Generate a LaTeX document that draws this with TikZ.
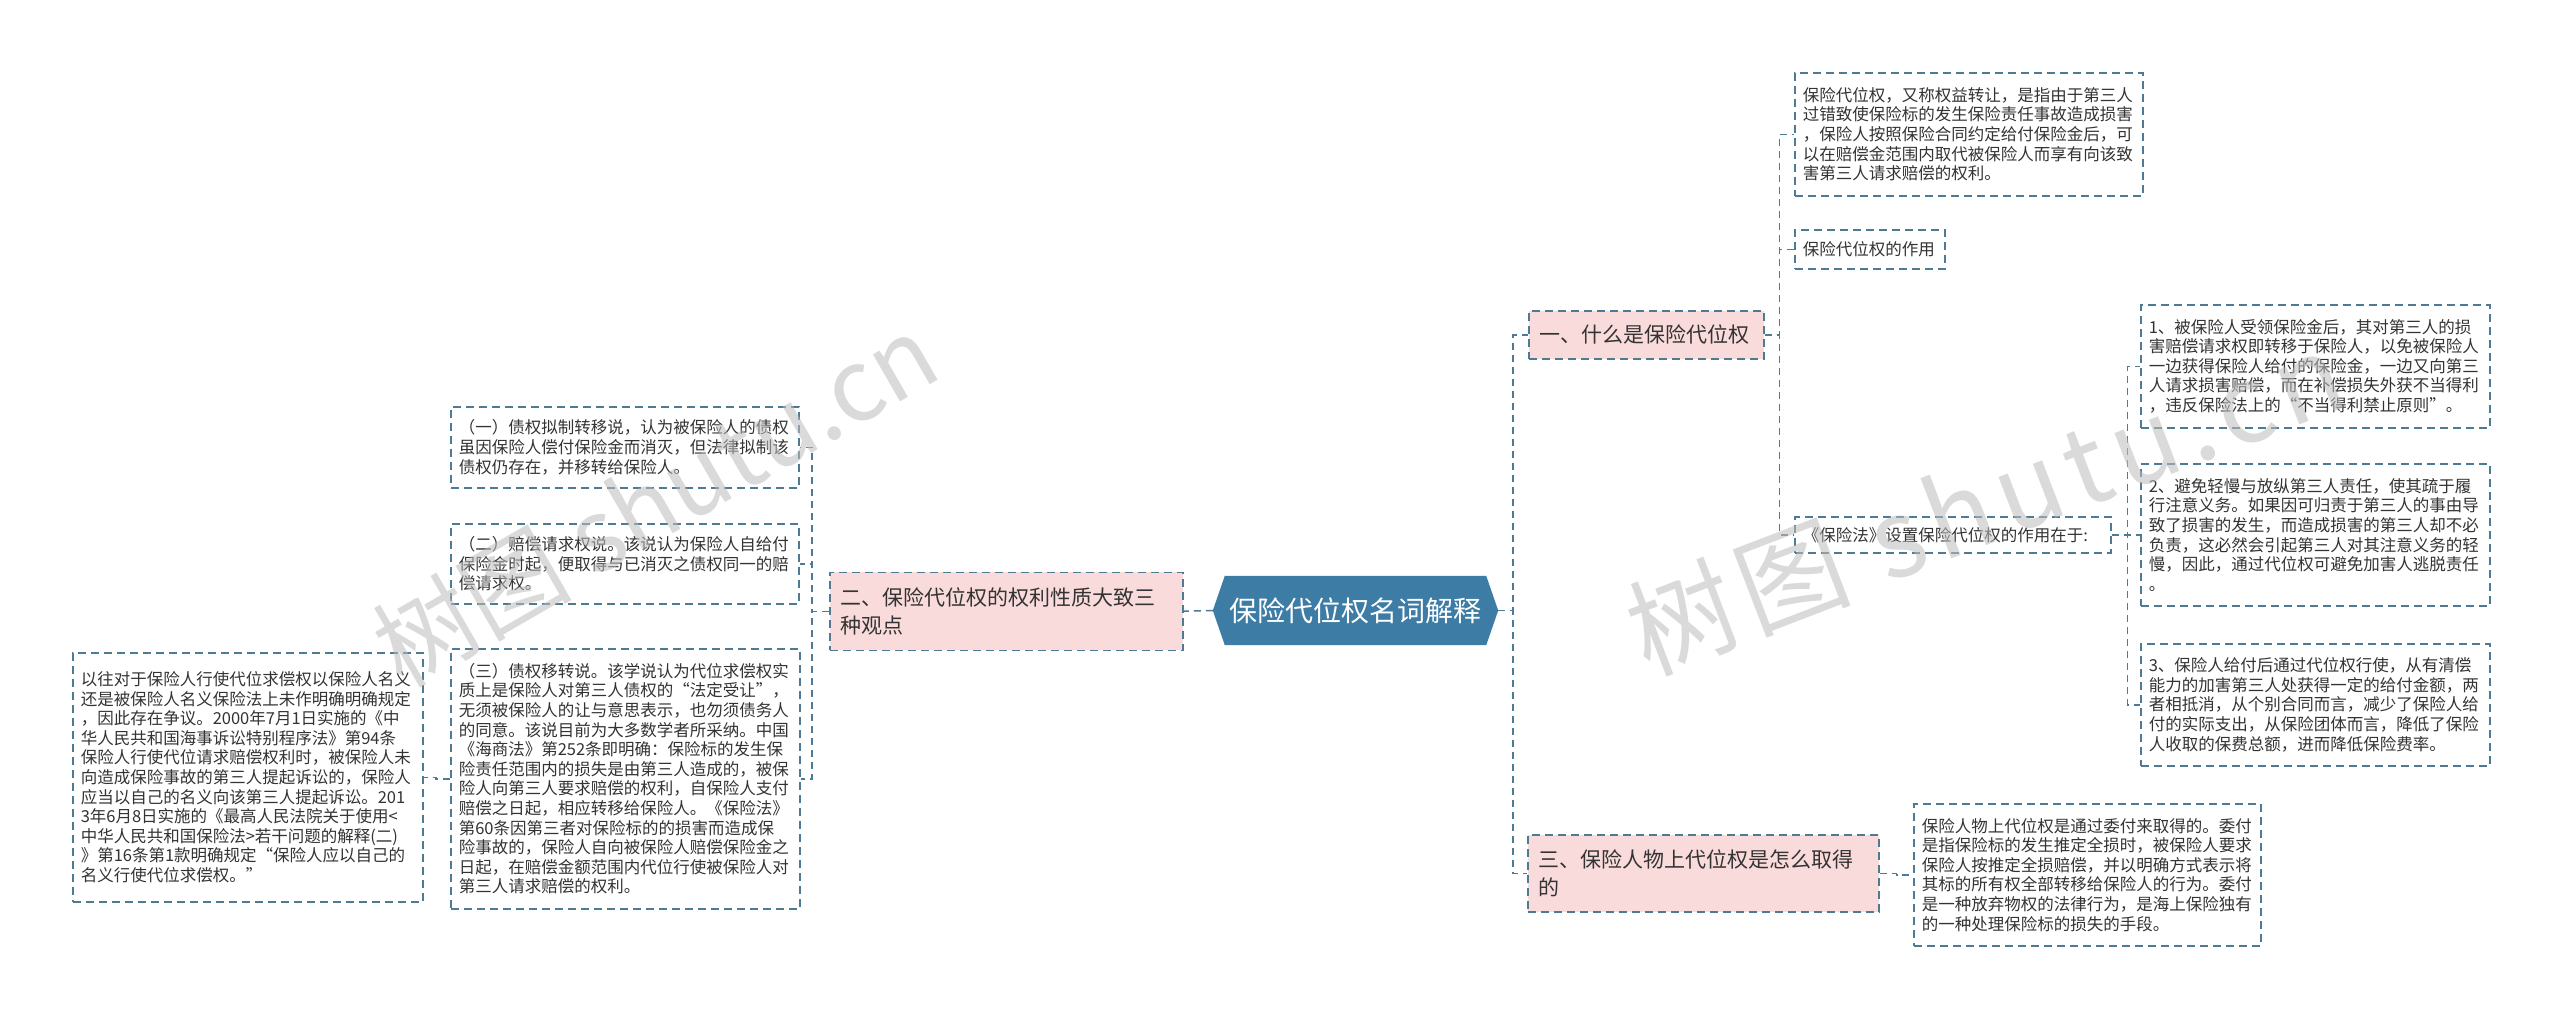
\documentclass[tikz,border=0pt]{standalone}
\usepackage{fontspec}
\setmainfont{Noto Sans CJK SC}
\newfontfamily\wmfont[LetterSpace=8]{Noto Sans CJK SC}
\usetikzlibrary{calc}
\pgfdeclarelayer{bg}
\pgfsetlayers{bg,main}
\definecolor{linec}{HTML}{4F7A94}
\definecolor{pinkf}{HTML}{FADBDB}
\definecolor{rootc}{HTML}{3D7DA5}
\definecolor{txt}{HTML}{333333}
\definecolor{wmc}{HTML}{BDBDBD}
\begin{document}
\begin{tikzpicture}[x=1pt,y=-1pt,
  conn/.style={draw=linec, dash pattern=on 7pt off 5pt, line width=1.5pt},
  leaf/.style={draw=linec, dash pattern=on 8pt off 5pt, line width=1.5pt, fill=white, text=txt,
    align=left, inner xsep=8pt, inner ysep=2pt, anchor=north west,
    font=\fontsize{16.5}{19.6}\selectfont},
  branch/.style={draw=linec, dash pattern=on 8pt off 5pt, line width=1.5pt, fill=pinkf, text=txt,
    align=left, inner xsep=11pt, inner ysep=2pt, anchor=north west,
    font=\fontsize{21}{27.5}\selectfont},
  rootnode/.style={text=white, inner sep=0pt, minimum width=285pt, minimum height=69pt,
    font=\fontsize{28}{32}\selectfont},
  wm/.style={text=wmc, opacity=0.55, font=\fontsize{100}{110}\selectfont, inner sep=0pt}
]
\useasboundingbox (0,0) rectangle (2560,1017);
\begin{pgfonlayer}{bg}
\fill[white] (0,0) rectangle (2560,1017);
\end{pgfonlayer}

% root
\node[rootnode] (root) at (1355.5,610.5) {保险代位权名词解释};
\begin{pgfonlayer}{bg}
\fill[rootc] (root.west) -- ([xshift=12pt]root.north west) -- ([xshift=-12pt]root.north east)
  -- (root.east) -- ([xshift=-12pt]root.south east) -- ([xshift=12pt]root.south west) -- cycle;
\end{pgfonlayer}

% branches
\node[branch, text width=213pt, minimum height=48pt] (b1) at (1528,310) {一、什么是保险代位权};
\node[branch, text width=331pt, minimum height=78pt] (b2) at (829,571.5) {二、保险代位权的权利性质大致三\\种观点};
\node[branch, text width=329pt, minimum height=77pt] (b3) at (1527,834) {三、保险人物上代位权是怎么取得\\的};

% branch 1 children
\node[leaf, text width=332pt, minimum height=123pt] (d1) at (1794,72) {保险代位权，又称权益转让，是指由于第三人\\过错致使保险标的发生保险责任事故造成损害\\，保险人按照保险合同约定给付保险金后，可\\以在赔偿金范围内取代被保险人而享有向该致\\害第三人请求赔偿的权利。};
\node[leaf, text width=134pt, minimum height=39pt] (d2) at (1794,229) {保险代位权的作用};
\node[leaf, text width=300pt, minimum height=36pt] (d3) at (1794,516) {《保险法》设置保险代位权的作用在于:};

\node[leaf, text width=333pt, minimum height=123pt] (e1) at (2140,304) {1、被保险人受领保险金后，其对第三人的损\\害赔偿请求权即转移于保险人，以免被保险人\\一边获得保险人给付的保险金，一边又向第三\\人请求损害赔偿，而在补偿损失外获不当得利\\，违反保险法上的“不当得利禁止原则”。};
\node[leaf, text width=333pt, minimum height=142pt] (e2) at (2140,463) {2、避免轻慢与放纵第三人责任，使其疏于履\\行注意义务。如果因可归责于第三人的事由导\\致了损害的发生，而造成损害的第三人却不必\\负责，这必然会引起第三人对其注意义务的轻\\慢，因此，通过代位权可避免加害人逃脱责任\\。};
\node[leaf, text width=333pt, minimum height=122pt] (e3) at (2140,643) {3、保险人给付后通过代位权行使，从有清偿\\能力的加害第三人处获得一定的给付金额，两\\者相抵消，从个别合同而言，减少了保险人给\\付的实际支出，从保险团体而言，降低了保险\\人收取的保费总额，进而降低保险费率。};

% branch 3 child
\node[leaf, text width=331pt, minimum height=142pt] (f) at (1913,803) {保险人物上代位权是通过委付来取得的。委付\\是指保险标的发生推定全损时，被保险人要求\\保险人按推定全损赔偿，并以明确方式表示将\\其标的所有权全部转移给保险人的行为。委付\\是一种放弃物权的法律行为，是海上保险独有\\的一种处理保险标的损失的手段。};

% branch 2 children
\node[leaf, text width=332pt, minimum height=81pt] (l1) at (450,406) {（一）债权拟制转移说，认为被保险人的债权\\虽因保险人偿付保险金而消灭，但法律拟制该\\债权仍存在，并移转给保险人。};
\node[leaf, text width=332pt, minimum height=80pt] (l2) at (450,523) {（二）赔偿请求权说。该说认为保险人自给付\\保险金时起，便取得与已消灭之债权同一的赔\\偿请求权。};
\node[leaf, text width=333pt, minimum height=260pt] (l3) at (450,648) {（三）债权移转说。该学说认为代位求偿权实\\质上是保险人对第三人债权的“法定受让”，\\无须被保险人的让与意思表示，也勿须债务人\\的同意。该说目前为大多数学者所采纳。中国\\《海商法》第252条即明确：保险标的发生保\\险责任范围内的损失是由第三人造成的，被保\\险人向第三人要求赔偿的权利，自保险人支付\\赔偿之日起，相应转移给保险人。《保险法》\\第60条因第三者对保险标的的损害而造成保\\险事故的，保险人自向被保险人赔偿保险金之\\日起，在赔偿金额范围内代位行使被保险人对\\第三人请求赔偿的权利。};
\node[leaf, text width=334pt, minimum height=249pt] (g) at (72,652) {以往对于保险人行使代位求偿权以保险人名义\\还是被保险人名义保险法上未作明确明确规定\\，因此存在争议。2000年7月1日实施的《中\\华人民共和国海事诉讼特别程序法》第94条\\保险人行使代位请求赔偿权利时，被保险人未\\向造成保险事故的第三人提起诉讼的，保险人\\应当以自己的名义向该第三人提起诉讼。201\\3年6月8日实施的《最高人民法院关于使用<\\中华人民共和国保险法>若干问题的解释(二)\\》第16条第1款明确规定“保险人应以自己的\\名义行使代位求偿权。”};

% connectors
\draw[conn] (root.west) -- (b2.east);
\draw[conn] (root.east) -- ++(15,0) |- (b1.west);
\draw[conn] (root.east) -- ++(15,0) |- (b3.west);
\draw[conn] (b1.east) -- ++(15,0) |- (d1.west);
\draw[conn] (b1.east) -- ++(15,0) |- (d2.west);
\draw[conn] (b1.east) -- ++(15,0) |- (d3.west);
\draw[conn] (d3.east) -- ++(16,0) |- (e1.west);
\draw[conn] (d3.east) -- ++(16,0) |- (e2.west);
\draw[conn] (d3.east) -- ++(16,0) |- (e3.west);
\draw[conn] (b3.east) -- ++(17,0) |- (f.west);
\draw[conn] (b2.west) -- ++(-17,0) |- (l1.east);
\draw[conn] (b2.west) -- ++(-17,0) |- (l2.east);
\draw[conn] (b2.west) -- ++(-17,0) |- (l3.east);
\draw[conn] (l3.west) -- ++(-14,0) |- (g.east);

% watermarks
\begin{scope}
\clip (0,0) rectangle (2560,1017);
\node[wm, rotate=30] (wm1) at (655,500) {树图 shutu.cn};
\node[wm, rotate=21, font=\wmfont\fontsize{108}{118}\selectfont] (wm2) at (1985,502) {树图 shutu.cn};
\end{scope}
\end{tikzpicture}
\end{document}
